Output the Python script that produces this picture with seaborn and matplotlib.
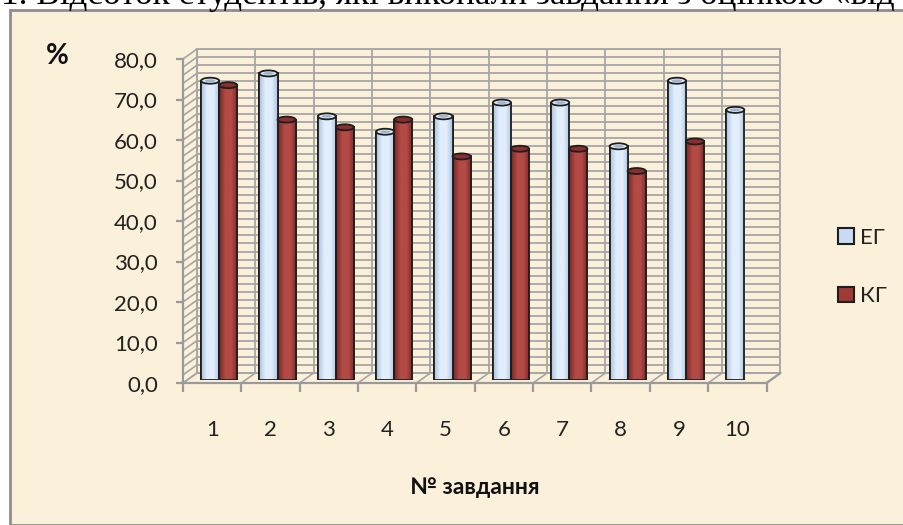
import numpy as np
import pandas as pd
import matplotlib
matplotlib.use("Agg")
import matplotlib.pyplot as plt
from matplotlib.patches import Rectangle, Ellipse, Patch
from matplotlib.lines import Line2D
import seaborn as sns

# --- data -------------------------------------------------------------
tasks = ["1", "2", "3", "4", "5", "6", "7", "8", "9", "10"]
eg_values = [73.9, 75.7, 65.1, 61.3, 65.1, 68.5, 68.5, 57.7, 73.9, 66.7]
kg_values = [72.8, 64.3, 62.4, 64.3, 55.2, 57.1, 57.1, 51.6, 58.9, np.nan]
groups = ["ЕГ", "КГ"]
y_ticks = [0, 10, 20, 30, 40, 50, 60, 70, 80]

title_text = "1. Відсоток студентів, які виконали завдання з оцінкою «від"
x_title = "№ завдання"
y_title = "%"

df = pd.DataFrame({
    "task": tasks * 2,
    "value": eg_values + kg_values,
    "group": [groups[0]] * len(tasks) + [groups[1]] * len(tasks),
})

# --- style ------------------------------------------------------------
sns.set_theme(style="white")
plt.rcParams["font.family"] = ["Lato", "DejaVu Sans"]

W, H = 904, 525
fig = plt.figure(figsize=(W / 100, H / 100), dpi=100, facecolor="white")

def fx(px):
    return px / W

def fy(py):
    return 1 - py / H

def axes_rect(x0, y_top, x1, y_bot):
    return [fx(x0), fy(y_bot), fx(x1) - fx(x0), fy(y_top) - fy(y_bot)]

PT = 0.72  # points per pixel at 100 dpi

paper = "#FBF0DA"
grid_col = "#A6A6A6"
frame_col = "#9A9A9A"
colors = {"ЕГ": "#C7DCF4", "КГ": "#A03A37"}
edge_dark = "#1E1E1E"
label_size = 16

# chart panel background with grey frame
fig.patches.append(Rectangle((fx(10), 0), 1 - fx(10), fy(10), transform=fig.transFigure,
                             facecolor=paper, edgecolor="#8E8E8E", linewidth=2.0, zorder=0))

# title line running off the top edge
fig.text(fx(1), fy(4), title_text, family=["Liberation Serif"], fontsize=25.3,
         ha="left", va="baseline", color="black", zorder=10)

# depth offset of the 3-D box
DX, DY = 14, 10
front_x0, front_x1 = 183, 766.5
front_y0, front_y80 = 383, 59
n = len(tasks)
step = (front_x1 - front_x0) / n
ppu = (front_y0 - front_y80) / 80.0

# back wall
wall = fig.add_axes(axes_rect(front_x0 + DX, front_y80 - DY, front_x1 + DX, front_y0 - DY), zorder=1)
wall.set_facecolor(paper)
wall.set_xlim(-0.5, n - 0.5)
wall.set_ylim(0, 80)
for v in np.arange(0, 81, 2):
    wall.axhline(v, color=grid_col, lw=1.3, zorder=1)
for b in np.arange(-0.5, n, 1.0):
    wall.axvline(b, color=grid_col, lw=1.3, zorder=1)
wall.set_xticks([])
wall.set_yticks([])
for s in wall.spines.values():
    s.set_color(grid_col)
    s.set_linewidth(1.3)

# side wall and floor drawn in pixel space
def fig_line(x0, y0, x1, y1, **kw):
    fig.add_artist(Line2D([fx(x0), fx(x1)], [fy(y0), fy(y1)], transform=fig.transFigure, **kw))

for v in np.arange(0, 81, 2):
    yp = front_y0 - v * ppu
    fig_line(front_x0, yp, front_x0 + DX, yp - DY, color=grid_col, lw=1.2, zorder=1.5)
fig_line(front_x0 + DX, front_y80 - DY, front_x0 + DX, front_y0 - DY, color=grid_col, lw=1.2, zorder=1.5)
for k in range(n + 1):
    xp = front_x0 + k * step
    fig_line(xp, front_y0, xp + DX, front_y0 - DY, color=grid_col, lw=1.2, zorder=1.5)
fig_line(front_x0 + DX, front_y0 - DY, front_x1 + DX, front_y0 - DY, color=grid_col, lw=1.2, zorder=1.5)

# bars, placed at mid depth
bx0, bx1 = front_x0 + DX / 2, front_x1 + DX / 2
by0 = front_y0 - 3
ax = fig.add_axes(axes_rect(bx0, by0 - 80 * ppu, bx1, by0), zorder=3)
ax.patch.set_alpha(0)
sns.barplot(data=df, x="task", y="value", hue="group", order=tasks, hue_order=groups,
            palette=colors, width=0.62, gap=0.0, edgecolor=edge_dark, linewidth=1.3,
            saturation=1.0, legend=False, errorbar=None, ax=ax)
ax.set_xlim(-0.5, n - 0.5)
ax.set_ylim(0, 80)
ax.set_axis_off()

cap_h = 6 / ppu
shade = {"ЕГ": ("#A9C2E0", "#E2EEFB"), "КГ": ("#7A2624", "#B24A45")}
bars = [p for p in ax.patches if isinstance(p, Rectangle)]
for i, p in enumerate(bars):
    h = p.get_height()
    if not np.isfinite(h) or h <= 0:
        continue
    grp = groups[0] if i < n else groups[1]
    x, w = p.get_x(), p.get_width()
    dark, light = shade[grp]
    # cylindrical shading clipped to the bar
    cmap = matplotlib.colors.LinearSegmentedColormap.from_list("cyl", [dark, light, light, dark])
    grad = np.linspace(0, 1, 64).reshape(1, -1)
    im = ax.imshow(grad, extent=[x, x + w, 0, h], aspect="auto", cmap=cmap, zorder=p.get_zorder() + 0.1)
    im.set_clip_path(p)
    ax.add_patch(Rectangle((x, 0), w, h, fill=False, edgecolor=edge_dark, linewidth=1.3,
                           zorder=p.get_zorder() + 0.2))
    # rounded base and top cap
    ax.add_patch(Ellipse((x + w / 2, 0), w, cap_h, facecolor=dark, edgecolor=edge_dark,
                         linewidth=1.3, zorder=p.get_zorder() - 0.1))
    ax.add_patch(Ellipse((x + w / 2, h), w, cap_h, facecolor=light if grp == "ЕГ" else "#8C2E2B",
                         edgecolor=edge_dark, linewidth=1.3, zorder=p.get_zorder() + 0.3))
    if grp == "ЕГ":
        ax.add_patch(Ellipse((x + w / 2, h), w * 0.6, cap_h * 0.45, facecolor="#9DB4CF",
                             edgecolor="none", zorder=p.get_zorder() + 0.4))

# front axes: ticks and labels
fr = fig.add_axes(axes_rect(front_x0, front_y80, front_x1, front_y0), zorder=4)
fr.patch.set_alpha(0)
fr.set_xlim(-0.5, n - 0.5)
fr.set_ylim(0, 80)
for s in ["top", "right"]:
    fr.spines[s].set_visible(False)
for s in ["left", "bottom"]:
    fr.spines[s].set_color(frame_col)
    fr.spines[s].set_linewidth(1.6)
fr.set_yticks(y_ticks)
fr.set_yticklabels([f"{v:.1f}".replace(".", ",") for v in y_ticks])
fr.set_xticks(range(n))
fr.set_xticklabels(tasks)
fr.set_xticks(np.arange(-0.5, n, 1.0), minor=True)
fr.tick_params(axis="y", which="major", direction="out", length=7 * PT, width=1.6, color=frame_col,
               labelsize=label_size, labelcolor="#222222", pad=18 * PT, left=True)
fr.tick_params(axis="x", which="major", length=0, labelsize=label_size, labelcolor="#222222",
               pad=37 * PT)
fr.tick_params(axis="x", which="minor", direction="out", length=9 * PT, width=1.6,
               color=frame_col, bottom=True)
fig_line(front_x1, front_y0, front_x1 + DX, front_y0 - DY, color=frame_col, lw=1.6, zorder=5)

# axis titles
fig.text(fx(475), fy(487), x_title, fontsize=16.5, fontweight="bold", ha="center", va="center",
         color="#111111")
fig.text(fx(57), fy(56), y_title, fontsize=20, fontweight="bold", ha="center", va="center",
         color="#111111")

# legend
handles = [Patch(facecolor=colors[g], edgecolor=edge_dark, linewidth=1.5) for g in groups]
fig.legend(handles, groups, loc="center left", bbox_to_anchor=(fx(818), fy(267)),
           frameon=False, fontsize=label_size, handlelength=0.7, handleheight=0.7,
           handletextpad=0.3, labelspacing=1.75, labelcolor="#222222")

fig.savefig("out.png", dpi=100, facecolor="white")
